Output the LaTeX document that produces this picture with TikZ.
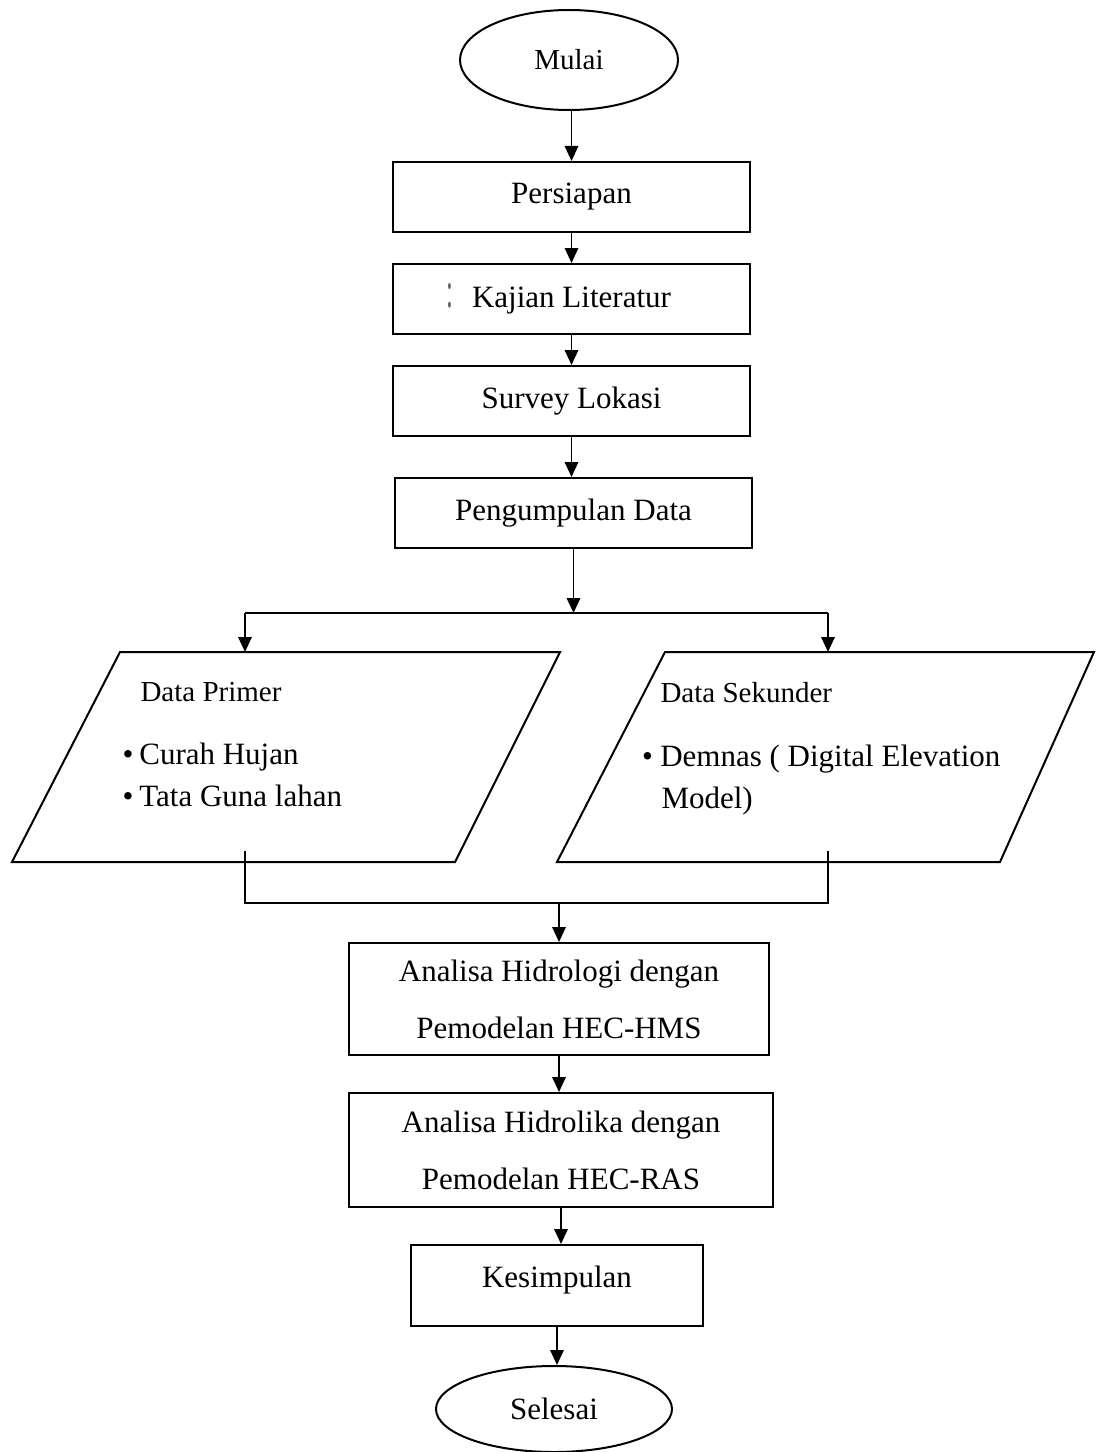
\documentclass[tikz,border=0pt]{standalone}
\usepackage{fontspec}
\setmainfont{Liberation Serif}
\usetikzlibrary{shapes.geometric,arrows.meta}

\begin{document}
\begin{tikzpicture}[x=0.4pt,y=-0.4pt,
  font=\fontsize{12.4}{15}\selectfont,
  box/.style={draw,line width=0.8pt,rectangle,inner sep=0pt,minimum width=142.8pt,minimum height=28pt},
  term/.style={draw,line width=0.8pt,ellipse,inner sep=0pt},
  txt/.style={anchor=base west,inner sep=0pt},
  small/.style={font=\fontsize{11.6}{14}\selectfont},
  arr/.style={line width=0.7pt,-{Triangle[length=6pt,width=5.4pt]}}]
\useasboundingbox (0,0) rectangle (1096,1452);
% tahap awal
\node[term,small,minimum width=87.2pt,minimum height=40pt](mulai) at (569,60) {Mulai};
\node[box](persiapan) at (571.5,197) {Persiapan};
\node[box](kajian) at (571.5,299) {\llap{\textcolor{black!60}{\scalebox{0.8}[1.65]{:}}\hspace{7.5pt}}Kajian Literatur};
\node[box](survey) at (571.5,401) {Survey Lokasi};
\node[box](pengumpulan) at (573.5,513) {Pengumpulan Data};
% data primer dan sekunder
\coordinate (dpA) at (120,652); \coordinate (dpB) at (560,652);
\coordinate (dpC) at (455,862); \coordinate (dpD) at (12,862);
\coordinate (dsA) at (665,652); \coordinate (dsB) at (1094,652);
\coordinate (dsC) at (1000,862); \coordinate (dsD) at (557,862);
\draw[line width=0.8pt] (dpA)--(dpB)--(dpC)--(dpD)--cycle;
\draw[line width=0.8pt] (dsA)--(dsB)--(dsC)--(dsD)--cycle;
\node[txt,small](dptitle) at (140,701) {Data Primer};
\node[txt](dp1) at (122,764) {\textbullet\hspace{2.4pt}Curah Hujan};
\node[txt](dp2) at (122,806) {\textbullet\hspace{2.4pt}Tata Guna lahan};
\node[txt,small](dstitle) at (660,702) {Data Sekunder};
\node[txt](ds1) at (641.5,766) {\textbullet\hspace{3pt}Demnas ( Digital Elevation};
\node[txt](ds2) at (661,808) {Model)};
% analisa
\node[box,minimum width=168pt,minimum height=44.8pt,align=center,
  font=\fontsize{12.4}{22.8}\selectfont](hidrologi) at (559,999)
  {Analisa Hidrologi dengan\\Pemodelan HEC-HMS};
\node[box,minimum width=169.6pt,minimum height=45.6pt,align=center,
  font=\fontsize{12.4}{22.8}\selectfont](hidrolika) at (561,1150)
  {Analisa Hidrolika dengan\\Pemodelan HEC-RAS};
\node[box,minimum width=116.8pt,minimum height=32.4pt,text depth=7.3pt](kesimpulan) at (557,1285.5) {Kesimpulan};
\node[term,minimum width=94.4pt,minimum height=34.4pt](selesai) at (554,1409) {Selesai};
% panah
\draw[arr] (persiapan.north |- mulai.south) -- (persiapan.north);
\foreach \a/\b in {persiapan/kajian,kajian/survey,survey/pengumpulan,hidrologi/hidrolika,hidrolika/kesimpulan,kesimpulan/selesai}
  \draw[arr] (\a.south) -- (\a.south |- \b.north);
\coordinate (brL) at (245,613); \coordinate (brR) at (828,613);
\draw[arr] (pengumpulan.south) -- (pengumpulan.south |- brL);
\draw[line width=0.7pt] (brL) -- (brR);
\draw[arr] (brL) -- (brL |- dpA);
\draw[arr] (brR) -- (brR |- dsA);
\coordinate (dpOut) at (245,851); \coordinate (dsOut) at (828,851);
\coordinate (jnL) at (245,903); \coordinate (jnR) at (828,903);
\draw[line width=0.7pt] (dpOut) -- (jnL) -- (jnR) -- (dsOut);
\draw[arr] (hidrologi.north |- jnL) -- (hidrologi.north);
\end{tikzpicture}
\end{document}
